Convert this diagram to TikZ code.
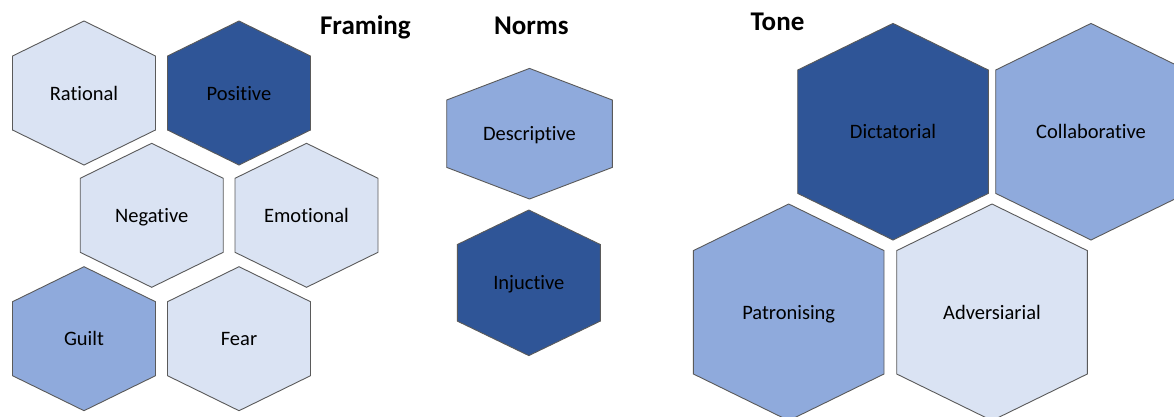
\documentclass[tikz,border=0pt]{standalone}
\usepackage{fontspec}
\setmainfont{Carlito}[Ligatures=NoCommon]
\definecolor{hexlight}{HTML}{DAE3F3}
\definecolor{hexmid}{HTML}{8FAADC}
\definecolor{hexdark}{HTML}{2F5597}
\definecolor{hexline}{HTML}{5A5A5A}
\begin{document}
\begin{tikzpicture}[x=1pt,y=-1pt,
  hexcell/.style={draw=hexline, line width=0.9pt, line join=miter},
  hexlabel/.style={inner sep=0pt, text height=16pt, text depth=2pt, text=black,
    font=\fontsize{20.5}{24}\selectfont},
  heading/.style={inner sep=0pt, anchor=base, text=black,
    font=\fontsize{27}{31}\selectfont\bfseries}]
% hexagon: name, centre x, centre y, half width, half height, side-vertex offset, fill, text
\newcommand\hexcellat[8]{%
  \path[hexcell, fill=#7] (#2,#3-#5) -- (#2+#4,#3-#6) -- (#2+#4,#3+#6)
    -- (#2,#3+#5) -- (#2-#4,#3+#6) -- (#2-#4,#3-#6) -- cycle;
  \node[hexlabel] (#1) at (#2,#3) {#8};}
\useasboundingbox (0,0) rectangle (1174,416);
\clip (0,0) rectangle (1174,416);
% Framing
\hexcellat{rational}{84}{93}{71.5}{72}{37}{hexlight}{Rational}
\hexcellat{positive}{239}{93}{71.5}{72}{37}{hexdark}{Positive}
\hexcellat{negative}{151.7}{215.3}{71.5}{72}{37}{hexlight}{Negative}
\hexcellat{emotional}{306.5}{215.3}{71.5}{72}{37}{hexlight}{Emotional}
\hexcellat{guilt}{84}{338.7}{71.5}{72}{37}{hexmid}{Guilt}
\hexcellat{fear}{239}{338.7}{71.5}{72}{37}{hexlight}{Fear}
% Norms
\hexcellat{descriptive}{529.5}{133.7}{82.8}{65.3}{33.7}{hexmid}{Descriptive}
\hexcellat{injuctive}{528.8}{282.8}{71.5}{72.8}{38.3}{hexdark}{Injuctive}
% Tone
\hexcellat{dictatorial}{893}{131.7}{95.3}{108.3}{61.7}{hexdark}{Dictatorial}
\hexcellat{collaborative}{1091}{131.7}{95.3}{108.3}{61.7}{hexmid}{Collaborative}
\hexcellat{patronising}{788.7}{312.3}{95.3}{108.3}{61.7}{hexmid}{Patronising}
\hexcellat{adversiarial}{992}{312.3}{95.3}{108.3}{61.7}{hexlight}{Adversiarial}
% headings
\node[heading] (framing) at (365.4,34) {Framing};
\node[heading] (norms) at (531.4,34.3) {Norms};
\node[heading] (tone) at (777.5,30) {Tone};
\end{tikzpicture}
\end{document}
